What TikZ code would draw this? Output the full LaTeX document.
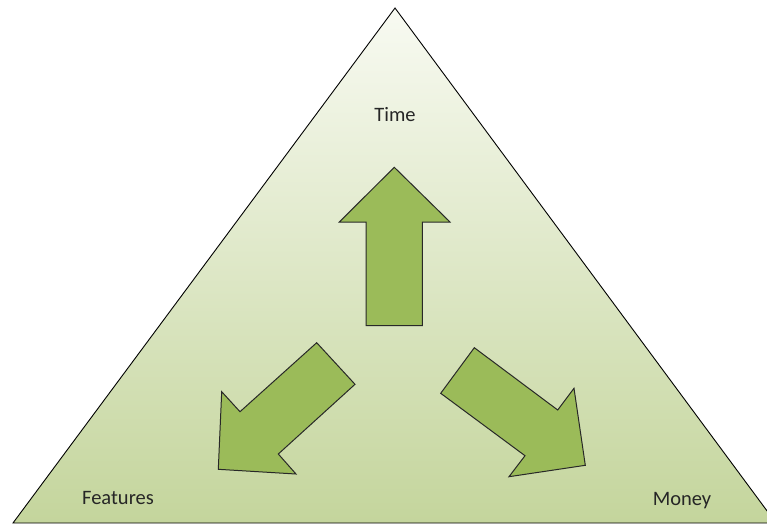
\documentclass[tikz,border=0pt]{standalone}
\usepackage{fontspec}
\setmainfont{Carlito}
\definecolor{topc}{RGB}{248,250,242}
\definecolor{botc}{RGB}{196,213,156}
\definecolor{arrowfill}{RGB}{155,187,89}
\definecolor{edgec}{RGB}{40,40,40}
\definecolor{txt}{RGB}{38,38,38}
\begin{document}
\begin{tikzpicture}[x=1pt,y=-1pt,
  arrowshape/.style={fill=arrowfill,draw=edgec,line width=1pt,line join=miter},
  lbl/.style={text=txt,font=\fontsize{20.5}{24}\selectfont,inner sep=0pt,anchor=base}]
\useasboundingbox (0,0) rectangle (767,523);
\begin{scope}
\clip (0,0) rectangle (767,523);
\shade[top color=topc,bottom color=botc,draw=black,line width=0.9pt]
  (395,8) -- (13,523) -- (776,523) -- cycle;
\end{scope}
% up arrow
\draw[arrowshape] (394.3,167.3) -- (450,222) -- (422.3,222) -- (422.3,325.7)
  -- (366,325.7) -- (366,222) -- (339.3,222) -- cycle;
% left-down arrow
\draw[arrowshape] (316.7,342.7) -- (355,384.3) -- (278.3,454) -- (296,474)
  -- (218.3,469.3) -- (221.7,391.7) -- (240,411.7) -- cycle;
% right-down arrow
\draw[arrowshape] (474.3,347.7) -- (557.7,410) -- (574,388.3) -- (585.3,465.3)
  -- (509,476.7) -- (525,455.7) -- (440.7,393.3) -- cycle;
\node[lbl] (time) at (395,121) {Time};
\node[lbl] (features) at (118,504.5) {Features};
\node[lbl] (money) at (682,505) {Money};
\end{tikzpicture}
\end{document}
